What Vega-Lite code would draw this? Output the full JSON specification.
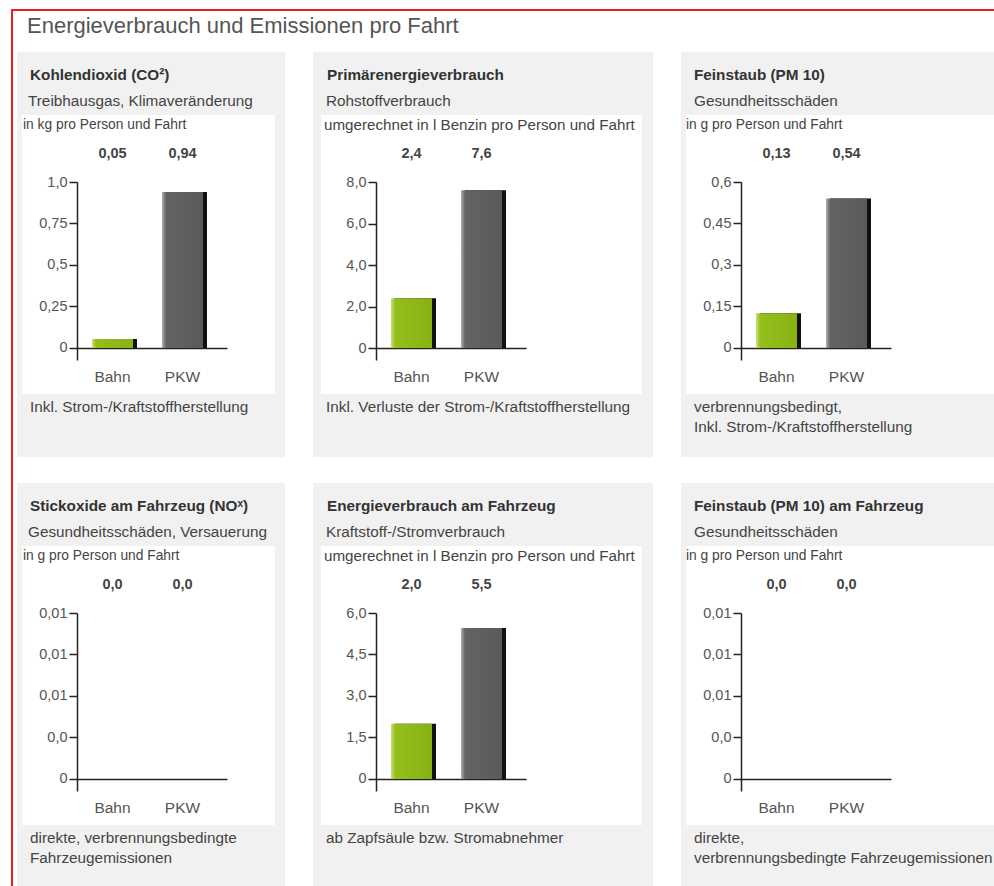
{
  "$schema": "https://vega.github.io/schema/vega-lite/v6.json",
  "padding": {"left": 11, "top": 9, "right": 0, "bottom": 0},
  "background": "#ffffff",
  "spacing": 0,
  "config": {
    "view": {"stroke": null},
    "font": "Liberation Sans",
    "locale": {"number": {"decimal": ",", "thousands": ".", "grouping": [3], "currency": ["", " €"]}},
    "axis": {"labelFont": "Liberation Sans", "labelColor": "#555555", "domainColor": "#222222", "domainWidth": 1.5, "tickColor": "#222222", "tickWidth": 1.5, "grid": false},
    "axisX": {"labelFontSize": 15.5},
    "axisY": {"labelFontSize": 14.5},
    "text": {"font": "Liberation Sans"}
  },
  "datasets": {
    "bars": [
      {"panel": "p1", "mode": "Bahn", "value": 0.054},
      {"panel": "p1", "mode": "PKW", "value": 0.94},
      {"panel": "p2", "mode": "Bahn", "value": 2.4},
      {"panel": "p2", "mode": "PKW", "value": 7.6},
      {"panel": "p3", "mode": "Bahn", "value": 0.126},
      {"panel": "p3", "mode": "PKW", "value": 0.54},
      {"panel": "p4", "mode": "Bahn", "value": 0},
      {"panel": "p4", "mode": "PKW", "value": 0},
      {"panel": "p5", "mode": "Bahn", "value": 2.0},
      {"panel": "p5", "mode": "PKW", "value": 5.46},
      {"panel": "p6", "mode": "Bahn", "value": 0},
      {"panel": "p6", "mode": "PKW", "value": 0}
    ],
    "texts": [
      {"panel": "p1", "title": "Kohlendioxid (CO²)", "subtitle": "Treibhausgas, Klimaveränderung", "unit": "in kg pro Person und Fahrt", "note": "Inkl. Strom-/Kraftstoffherstellung"},
      {"panel": "p2", "title": "Primärenergieverbrauch", "subtitle": "Rohstoffverbrauch", "unit": "umgerechnet in l Benzin pro Person und Fahrt", "note": "Inkl. Verluste der Strom-/Kraftstoffherstellung"},
      {"panel": "p3", "title": "Feinstaub (PM 10)", "subtitle": "Gesundheitsschäden", "unit": "in g pro Person und Fahrt", "note": "verbrennungsbedingt,\nInkl. Strom-/Kraftstoffherstellung"},
      {"panel": "p4", "title": "Stickoxide am Fahrzeug (NOˣ)", "subtitle": "Gesundheitsschäden, Versauerung", "unit": "in g pro Person und Fahrt", "note": "direkte, verbrennungsbedingte\nFahrzeugemissionen"},
      {"panel": "p5", "title": "Energieverbrauch am Fahrzeug", "subtitle": "Kraftstoff-/Stromverbrauch", "unit": "umgerechnet in l Benzin pro Person und Fahrt", "note": "ab Zapfsäule bzw. Stromabnehmer"},
      {"panel": "p6", "title": "Feinstaub (PM 10) am Fahrzeug", "subtitle": "Gesundheitsschäden", "unit": "in g pro Person und Fahrt", "note": "direkte,\nverbrennungsbedingte Fahrzeugemissionen"}
    ]
  },
  "vconcat": [
    {"width": 983, "height": 2, "view": {"fill": "#e2231a"}, "data": {"values": []}, "mark": "text", "encoding": {}},
    {"spacing": 4, "hconcat": [
      {"width": 2, "height": 875, "view": {"fill": "#e2231a"}, "data": {"values": []}, "mark": "text", "encoding": {}},
      {"spacing": 26, "vconcat": [
        {"spacing": 0, "vconcat": [
          {"width": 977, "height": 41, "data": {"values": [{"t": "Energieverbrauch und Emissionen pro Fahrt"}]},
           "mark": {"type": "text", "align": "left", "baseline": "alphabetic", "fontSize": 22, "color": "#555555"},
           "encoding": {"x": {"value": 10}, "y": {"value": 22}, "text": {"field": "t"}}},
          {"spacing": 28, "hconcat": [
            {"spacing": 0, "vconcat": [
              {"width": 268, "height": 63, "view": {"fill": "#f1f1f1"}, "data": {"name": "texts"}, "transform": [{"filter": "datum.panel === 'p1'"}],
               "layer": [
                 {"mark": {"type": "text", "align": "left", "baseline": "middle", "fontWeight": "bold", "fontSize": 15.3, "color": "#333333"}, "encoding": {"x": {"value": 13}, "y": {"value": 23}, "text": {"field": "title"}}},
                 {"mark": {"type": "text", "align": "left", "baseline": "middle", "fontSize": 15.3, "color": "#444444"}, "encoding": {"x": {"value": 11}, "y": {"value": 49}, "text": {"field": "subtitle"}}}
               ]},
              {"spacing": 0, "hconcat": [
                {"width": 5, "height": 279, "view": {"fill": "#f1f1f1"}, "data": {"values": []}, "mark": "text", "encoding": {}},
                {"width": 253, "height": 279, "view": {"fill": "#ffffff"},
                 "layer": [
                   {"data": {"name": "texts"}, "transform": [{"filter": "datum.panel === 'p1'"}],
                    "mark": {"type": "text", "align": "left", "baseline": "middle", "fontSize": 13.8, "color": "#444444"},
                    "encoding": {"x": {"value": 1}, "y": {"value": 10}, "text": {"field": "unit"}}},
                   {"data": {"name": "bars"}, "transform": [{"filter": "datum.panel === 'p1'"}],
                    "encoding": {
                      "x": {"field": "mode", "type": "nominal", "scale": {"domain": ["Bahn", "PKW"], "range": [55, 205], "paddingInner": 0, "paddingOuter": 0.0714, "align": 0.05}, "axis": {"offset": -46, "ticks": false, "labelPadding": 21, "labelAngle": 0, "title": null}},
                      "y": {"field": "value", "type": "quantitative", "scale": {"domain": [-0.0723, 1], "range": [245, 67], "nice": false, "zero": false}, "axis": {"values": [0, 0.25, 0.5, 0.75, 1], "offset": -55, "tickSize": 8, "labelPadding": 2, "title": null, "labelExpr": "datum.value === 0 ? '0' : datum.value === 1 ? '1,0' : format(datum.value, '~g')"}}
                    },
                    "layer": [
                      {"mark": {"type": "bar", "width": 41, "xOffset": 4, "color": "#111111"}, "encoding": {"y2": {"datum": 0}}},
                      {"mark": {"type": "bar", "width": 41}, "encoding": {"y2": {"datum": 0}, "color": {"condition": {"test": "datum.mode === 'Bahn'", "value": {"gradient": "linear", "x1": 0, "y1": 0, "x2": 1, "y2": 0, "stops": [{"offset": 0, "color": "#c9e27a"}, {"offset": 0.1, "color": "#95bf1c"}, {"offset": 1, "color": "#88b114"}]}}, "value": {"gradient": "linear", "x1": 0, "y1": 0, "x2": 1, "y2": 0, "stops": [{"offset": 0, "color": "#b0b0b0"}, {"offset": 0.1, "color": "#646464"}, {"offset": 1, "color": "#5a5a5a"}]}}}},
                      {"mark": {"type": "text", "baseline": "middle", "fontWeight": "bold", "fontSize": 14.5, "color": "#444444"}, "encoding": {"y": {"value": 39}, "text": {"field": "value", "type": "quantitative", "format": ".2f"}}}
                    ]}
                 ]},
                {"width": 10, "height": 279, "view": {"fill": "#f1f1f1"}, "data": {"values": []}, "mark": "text", "encoding": {}}
              ]},
              {"width": 268, "height": 63, "view": {"fill": "#f1f1f1"}, "data": {"name": "texts"}, "transform": [{"filter": "datum.panel === 'p1'"}],
               "mark": {"type": "text", "align": "left", "baseline": "top", "fontSize": 15.3, "color": "#444444", "lineBreak": "\n", "lineHeight": 20},
               "encoding": {"x": {"value": 13}, "y": {"value": 6}, "text": {"field": "note"}}}
            ]},
            {"spacing": 0, "vconcat": [
              {"width": 340, "height": 63, "view": {"fill": "#f1f1f1"}, "data": {"name": "texts"}, "transform": [{"filter": "datum.panel === 'p2'"}],
               "layer": [
                 {"mark": {"type": "text", "align": "left", "baseline": "middle", "fontWeight": "bold", "fontSize": 15.3, "color": "#333333"}, "encoding": {"x": {"value": 14}, "y": {"value": 23}, "text": {"field": "title"}}},
                 {"mark": {"type": "text", "align": "left", "baseline": "middle", "fontSize": 15.3, "color": "#444444"}, "encoding": {"x": {"value": 13}, "y": {"value": 49}, "text": {"field": "subtitle"}}}
               ]},
              {"spacing": 0, "hconcat": [
                {"width": 8, "height": 279, "view": {"fill": "#f1f1f1"}, "data": {"values": []}, "mark": "text", "encoding": {}},
                {"width": 321, "height": 279, "view": {"fill": "#ffffff"},
                 "layer": [
                   {"data": {"name": "texts"}, "transform": [{"filter": "datum.panel === 'p2'"}],
                    "mark": {"type": "text", "align": "left", "baseline": "middle", "fontSize": 15.2, "color": "#444444"},
                    "encoding": {"x": {"value": 3}, "y": {"value": 10}, "text": {"field": "unit"}}},
                   {"data": {"name": "bars"}, "transform": [{"filter": "datum.panel === 'p2'"}],
                    "encoding": {
                      "x": {"field": "mode", "type": "nominal", "scale": {"domain": ["Bahn", "PKW"], "range": [55, 205], "paddingInner": 0, "paddingOuter": 0.0714, "align": 0.05}, "axis": {"offset": -46, "ticks": false, "labelPadding": 21, "labelAngle": 0, "title": null}},
                      "y": {"field": "value", "type": "quantitative", "scale": {"domain": [-0.578, 8], "range": [245, 67], "nice": false, "zero": false}, "axis": {"values": [0, 2, 4, 6, 8], "offset": -55, "tickSize": 8, "labelPadding": 2, "title": null, "labelExpr": "datum.value === 0 ? '0' : format(datum.value, '.1f')"}}
                    },
                    "layer": [
                      {"mark": {"type": "bar", "width": 41, "xOffset": 4, "color": "#111111"}, "encoding": {"y2": {"datum": 0}}},
                      {"mark": {"type": "bar", "width": 41}, "encoding": {"y2": {"datum": 0}, "color": {"condition": {"test": "datum.mode === 'Bahn'", "value": {"gradient": "linear", "x1": 0, "y1": 0, "x2": 1, "y2": 0, "stops": [{"offset": 0, "color": "#c9e27a"}, {"offset": 0.1, "color": "#95bf1c"}, {"offset": 1, "color": "#88b114"}]}}, "value": {"gradient": "linear", "x1": 0, "y1": 0, "x2": 1, "y2": 0, "stops": [{"offset": 0, "color": "#b0b0b0"}, {"offset": 0.1, "color": "#646464"}, {"offset": 1, "color": "#5a5a5a"}]}}}},
                      {"mark": {"type": "text", "baseline": "middle", "fontWeight": "bold", "fontSize": 14.5, "color": "#444444"}, "encoding": {"y": {"value": 39}, "text": {"field": "value", "type": "quantitative", "format": ".1f"}}}
                    ]}
                 ]},
                {"width": 11, "height": 279, "view": {"fill": "#f1f1f1"}, "data": {"values": []}, "mark": "text", "encoding": {}}
              ]},
              {"width": 340, "height": 63, "view": {"fill": "#f1f1f1"}, "data": {"name": "texts"}, "transform": [{"filter": "datum.panel === 'p2'"}],
               "mark": {"type": "text", "align": "left", "baseline": "top", "fontSize": 15.3, "color": "#444444", "lineBreak": "\n", "lineHeight": 20},
               "encoding": {"x": {"value": 13}, "y": {"value": 6}, "text": {"field": "note"}}}
            ]},
            {"spacing": 0, "vconcat": [
              {"width": 313, "height": 63, "view": {"fill": "#f1f1f1"}, "data": {"name": "texts"}, "transform": [{"filter": "datum.panel === 'p3'"}],
               "layer": [
                 {"mark": {"type": "text", "align": "left", "baseline": "middle", "fontWeight": "bold", "fontSize": 15.3, "color": "#333333"}, "encoding": {"x": {"value": 13}, "y": {"value": 23}, "text": {"field": "title"}}},
                 {"mark": {"type": "text", "align": "left", "baseline": "middle", "fontSize": 15.3, "color": "#444444"}, "encoding": {"x": {"value": 13}, "y": {"value": 49}, "text": {"field": "subtitle"}}}
               ]},
              {"spacing": 0, "hconcat": [
                {"width": 5, "height": 279, "view": {"fill": "#f1f1f1"}, "data": {"values": []}, "mark": "text", "encoding": {}},
                {"width": 308, "height": 279, "view": {"fill": "#ffffff"},
                 "layer": [
                   {"data": {"name": "texts"}, "transform": [{"filter": "datum.panel === 'p3'"}],
                    "mark": {"type": "text", "align": "left", "baseline": "middle", "fontSize": 13.8, "color": "#444444"},
                    "encoding": {"x": {"value": 0}, "y": {"value": 10}, "text": {"field": "unit"}}},
                   {"data": {"name": "bars"}, "transform": [{"filter": "datum.panel === 'p3'"}],
                    "encoding": {
                      "x": {"field": "mode", "type": "nominal", "scale": {"domain": ["Bahn", "PKW"], "range": [55, 205], "paddingInner": 0, "paddingOuter": 0.0714, "align": 0.05}, "axis": {"offset": -46, "ticks": false, "labelPadding": 21, "labelAngle": 0, "title": null}},
                      "y": {"field": "value", "type": "quantitative", "scale": {"domain": [-0.0434, 0.6], "range": [245, 67], "nice": false, "zero": false}, "axis": {"values": [0, 0.15, 0.3, 0.45, 0.6], "offset": -55, "tickSize": 8, "labelPadding": 2, "title": null, "labelExpr": "datum.value === 0 ? '0' : format(datum.value, '~g')"}}
                    },
                    "layer": [
                      {"mark": {"type": "bar", "width": 41, "xOffset": 4, "color": "#111111"}, "encoding": {"y2": {"datum": 0}}},
                      {"mark": {"type": "bar", "width": 41}, "encoding": {"y2": {"datum": 0}, "color": {"condition": {"test": "datum.mode === 'Bahn'", "value": {"gradient": "linear", "x1": 0, "y1": 0, "x2": 1, "y2": 0, "stops": [{"offset": 0, "color": "#c9e27a"}, {"offset": 0.1, "color": "#95bf1c"}, {"offset": 1, "color": "#88b114"}]}}, "value": {"gradient": "linear", "x1": 0, "y1": 0, "x2": 1, "y2": 0, "stops": [{"offset": 0, "color": "#b0b0b0"}, {"offset": 0.1, "color": "#646464"}, {"offset": 1, "color": "#5a5a5a"}]}}}},
                      {"mark": {"type": "text", "baseline": "middle", "fontWeight": "bold", "fontSize": 14.5, "color": "#444444"}, "encoding": {"y": {"value": 39}, "text": {"field": "value", "type": "quantitative", "format": ".2f"}}}
                    ]}
                 ]}
              ]},
              {"width": 313, "height": 63, "view": {"fill": "#f1f1f1"}, "data": {"name": "texts"}, "transform": [{"filter": "datum.panel === 'p3'"}],
               "mark": {"type": "text", "align": "left", "baseline": "top", "fontSize": 15.3, "color": "#444444", "lineBreak": "\n", "lineHeight": 20},
               "encoding": {"x": {"value": 13}, "y": {"value": 6}, "text": {"field": "note"}}}
            ]}
          ]}
        ]},
        {"spacing": 28, "hconcat": [
          {"spacing": 0, "vconcat": [
            {"width": 268, "height": 63, "view": {"fill": "#f1f1f1"}, "data": {"name": "texts"}, "transform": [{"filter": "datum.panel === 'p4'"}],
             "layer": [
               {"mark": {"type": "text", "align": "left", "baseline": "middle", "fontWeight": "bold", "fontSize": 15.3, "color": "#333333"}, "encoding": {"x": {"value": 13}, "y": {"value": 23}, "text": {"field": "title"}}},
               {"mark": {"type": "text", "align": "left", "baseline": "middle", "fontSize": 15.3, "color": "#444444"}, "encoding": {"x": {"value": 11}, "y": {"value": 49}, "text": {"field": "subtitle"}}}
             ]},
            {"spacing": 0, "hconcat": [
              {"width": 5, "height": 279, "view": {"fill": "#f1f1f1"}, "data": {"values": []}, "mark": "text", "encoding": {}},
              {"width": 253, "height": 279, "view": {"fill": "#ffffff"},
               "layer": [
                 {"data": {"name": "texts"}, "transform": [{"filter": "datum.panel === 'p4'"}],
                  "mark": {"type": "text", "align": "left", "baseline": "middle", "fontSize": 13.8, "color": "#444444"},
                  "encoding": {"x": {"value": 1}, "y": {"value": 10}, "text": {"field": "unit"}}},
                 {"data": {"name": "bars"}, "transform": [{"filter": "datum.panel === 'p4'"}],
                  "encoding": {
                    "x": {"field": "mode", "type": "nominal", "scale": {"domain": ["Bahn", "PKW"], "range": [55, 205], "paddingInner": 0, "paddingOuter": 0.0714, "align": 0.05}, "axis": {"offset": -46, "ticks": false, "labelPadding": 21, "labelAngle": 0, "title": null}},
                    "y": {"field": "value", "type": "quantitative", "scale": {"domain": [-0.000723, 0.01], "range": [245, 67], "nice": false, "zero": false}, "axis": {"values": [0, 0.0025, 0.005, 0.0075, 0.01], "offset": -55, "tickSize": 8, "labelPadding": 2, "title": null, "labelExpr": "datum.value === 0 ? '0' : datum.value < 0.004 ? '0,0' : '0,01'"}}
                  },
                  "layer": [
                    {"mark": {"type": "bar", "width": 41, "xOffset": 4, "color": "#111111"}, "encoding": {"y2": {"datum": 0}}},
                    {"mark": {"type": "bar", "width": 41}, "encoding": {"y2": {"datum": 0}, "color": {"condition": {"test": "datum.mode === 'Bahn'", "value": {"gradient": "linear", "x1": 0, "y1": 0, "x2": 1, "y2": 0, "stops": [{"offset": 0, "color": "#c9e27a"}, {"offset": 0.1, "color": "#95bf1c"}, {"offset": 1, "color": "#88b114"}]}}, "value": {"gradient": "linear", "x1": 0, "y1": 0, "x2": 1, "y2": 0, "stops": [{"offset": 0, "color": "#b0b0b0"}, {"offset": 0.1, "color": "#646464"}, {"offset": 1, "color": "#5a5a5a"}]}}}},
                    {"mark": {"type": "text", "baseline": "middle", "fontWeight": "bold", "fontSize": 14.5, "color": "#444444"}, "encoding": {"y": {"value": 39}, "text": {"field": "value", "type": "quantitative", "format": ".1f"}}}
                  ]}
               ]},
              {"width": 10, "height": 279, "view": {"fill": "#f1f1f1"}, "data": {"values": []}, "mark": "text", "encoding": {}}
            ]},
            {"width": 268, "height": 61, "view": {"fill": "#f1f1f1"}, "data": {"name": "texts"}, "transform": [{"filter": "datum.panel === 'p4'"}],
             "mark": {"type": "text", "align": "left", "baseline": "top", "fontSize": 15.3, "color": "#444444", "lineBreak": "\n", "lineHeight": 20},
             "encoding": {"x": {"value": 13}, "y": {"value": 6}, "text": {"field": "note"}}}
          ]},
          {"spacing": 0, "vconcat": [
            {"width": 340, "height": 63, "view": {"fill": "#f1f1f1"}, "data": {"name": "texts"}, "transform": [{"filter": "datum.panel === 'p5'"}],
             "layer": [
               {"mark": {"type": "text", "align": "left", "baseline": "middle", "fontWeight": "bold", "fontSize": 15.3, "color": "#333333"}, "encoding": {"x": {"value": 14}, "y": {"value": 23}, "text": {"field": "title"}}},
               {"mark": {"type": "text", "align": "left", "baseline": "middle", "fontSize": 15.3, "color": "#444444"}, "encoding": {"x": {"value": 13}, "y": {"value": 49}, "text": {"field": "subtitle"}}}
             ]},
            {"spacing": 0, "hconcat": [
              {"width": 8, "height": 279, "view": {"fill": "#f1f1f1"}, "data": {"values": []}, "mark": "text", "encoding": {}},
              {"width": 321, "height": 279, "view": {"fill": "#ffffff"},
               "layer": [
                 {"data": {"name": "texts"}, "transform": [{"filter": "datum.panel === 'p5'"}],
                  "mark": {"type": "text", "align": "left", "baseline": "middle", "fontSize": 15.2, "color": "#444444"},
                  "encoding": {"x": {"value": 3}, "y": {"value": 10}, "text": {"field": "unit"}}},
                 {"data": {"name": "bars"}, "transform": [{"filter": "datum.panel === 'p5'"}],
                  "encoding": {
                    "x": {"field": "mode", "type": "nominal", "scale": {"domain": ["Bahn", "PKW"], "range": [55, 205], "paddingInner": 0, "paddingOuter": 0.0714, "align": 0.05}, "axis": {"offset": -46, "ticks": false, "labelPadding": 21, "labelAngle": 0, "title": null}},
                    "y": {"field": "value", "type": "quantitative", "scale": {"domain": [-0.434, 6], "range": [245, 67], "nice": false, "zero": false}, "axis": {"values": [0, 1.5, 3, 4.5, 6], "offset": -55, "tickSize": 8, "labelPadding": 2, "title": null, "labelExpr": "datum.value === 0 ? '0' : format(datum.value, '.1f')"}}
                  },
                  "layer": [
                    {"mark": {"type": "bar", "width": 41, "xOffset": 4, "color": "#111111"}, "encoding": {"y2": {"datum": 0}}},
                    {"mark": {"type": "bar", "width": 41}, "encoding": {"y2": {"datum": 0}, "color": {"condition": {"test": "datum.mode === 'Bahn'", "value": {"gradient": "linear", "x1": 0, "y1": 0, "x2": 1, "y2": 0, "stops": [{"offset": 0, "color": "#c9e27a"}, {"offset": 0.1, "color": "#95bf1c"}, {"offset": 1, "color": "#88b114"}]}}, "value": {"gradient": "linear", "x1": 0, "y1": 0, "x2": 1, "y2": 0, "stops": [{"offset": 0, "color": "#b0b0b0"}, {"offset": 0.1, "color": "#646464"}, {"offset": 1, "color": "#5a5a5a"}]}}}},
                    {"mark": {"type": "text", "baseline": "middle", "fontWeight": "bold", "fontSize": 14.5, "color": "#444444"}, "encoding": {"y": {"value": 39}, "text": {"field": "value", "type": "quantitative", "format": ".1f"}}}
                  ]}
               ]},
              {"width": 11, "height": 279, "view": {"fill": "#f1f1f1"}, "data": {"values": []}, "mark": "text", "encoding": {}}
            ]},
            {"width": 340, "height": 61, "view": {"fill": "#f1f1f1"}, "data": {"name": "texts"}, "transform": [{"filter": "datum.panel === 'p5'"}],
             "mark": {"type": "text", "align": "left", "baseline": "top", "fontSize": 15.3, "color": "#444444", "lineBreak": "\n", "lineHeight": 20},
             "encoding": {"x": {"value": 13}, "y": {"value": 6}, "text": {"field": "note"}}}
          ]},
          {"spacing": 0, "vconcat": [
            {"width": 313, "height": 63, "view": {"fill": "#f1f1f1"}, "data": {"name": "texts"}, "transform": [{"filter": "datum.panel === 'p6'"}],
             "layer": [
               {"mark": {"type": "text", "align": "left", "baseline": "middle", "fontWeight": "bold", "fontSize": 15.3, "color": "#333333"}, "encoding": {"x": {"value": 13}, "y": {"value": 23}, "text": {"field": "title"}}},
               {"mark": {"type": "text", "align": "left", "baseline": "middle", "fontSize": 15.3, "color": "#444444"}, "encoding": {"x": {"value": 13}, "y": {"value": 49}, "text": {"field": "subtitle"}}}
             ]},
            {"spacing": 0, "hconcat": [
              {"width": 5, "height": 279, "view": {"fill": "#f1f1f1"}, "data": {"values": []}, "mark": "text", "encoding": {}},
              {"width": 308, "height": 279, "view": {"fill": "#ffffff"},
               "layer": [
                 {"data": {"name": "texts"}, "transform": [{"filter": "datum.panel === 'p6'"}],
                  "mark": {"type": "text", "align": "left", "baseline": "middle", "fontSize": 13.8, "color": "#444444"},
                  "encoding": {"x": {"value": 0}, "y": {"value": 10}, "text": {"field": "unit"}}},
                 {"data": {"name": "bars"}, "transform": [{"filter": "datum.panel === 'p6'"}],
                  "encoding": {
                    "x": {"field": "mode", "type": "nominal", "scale": {"domain": ["Bahn", "PKW"], "range": [55, 205], "paddingInner": 0, "paddingOuter": 0.0714, "align": 0.05}, "axis": {"offset": -46, "ticks": false, "labelPadding": 21, "labelAngle": 0, "title": null}},
                    "y": {"field": "value", "type": "quantitative", "scale": {"domain": [-0.000723, 0.01], "range": [245, 67], "nice": false, "zero": false}, "axis": {"values": [0, 0.0025, 0.005, 0.0075, 0.01], "offset": -55, "tickSize": 8, "labelPadding": 2, "title": null, "labelExpr": "datum.value === 0 ? '0' : datum.value < 0.004 ? '0,0' : '0,01'"}}
                  },
                  "layer": [
                    {"mark": {"type": "bar", "width": 41, "xOffset": 4, "color": "#111111"}, "encoding": {"y2": {"datum": 0}}},
                    {"mark": {"type": "bar", "width": 41}, "encoding": {"y2": {"datum": 0}, "color": {"condition": {"test": "datum.mode === 'Bahn'", "value": {"gradient": "linear", "x1": 0, "y1": 0, "x2": 1, "y2": 0, "stops": [{"offset": 0, "color": "#c9e27a"}, {"offset": 0.1, "color": "#95bf1c"}, {"offset": 1, "color": "#88b114"}]}}, "value": {"gradient": "linear", "x1": 0, "y1": 0, "x2": 1, "y2": 0, "stops": [{"offset": 0, "color": "#b0b0b0"}, {"offset": 0.1, "color": "#646464"}, {"offset": 1, "color": "#5a5a5a"}]}}}},
                    {"mark": {"type": "text", "baseline": "middle", "fontWeight": "bold", "fontSize": 14.5, "color": "#444444"}, "encoding": {"y": {"value": 39}, "text": {"field": "value", "type": "quantitative", "format": ".1f"}}}
                  ]}
               ]}
            ]},
            {"width": 313, "height": 61, "view": {"fill": "#f1f1f1"}, "data": {"name": "texts"}, "transform": [{"filter": "datum.panel === 'p6'"}],
             "mark": {"type": "text", "align": "left", "baseline": "top", "fontSize": 15.3, "color": "#444444", "lineBreak": "\n", "lineHeight": 20},
             "encoding": {"x": {"value": 13}, "y": {"value": 6}, "text": {"field": "note"}}}
          ]}
        ]}
      ]}
    ]}
  ]
}
